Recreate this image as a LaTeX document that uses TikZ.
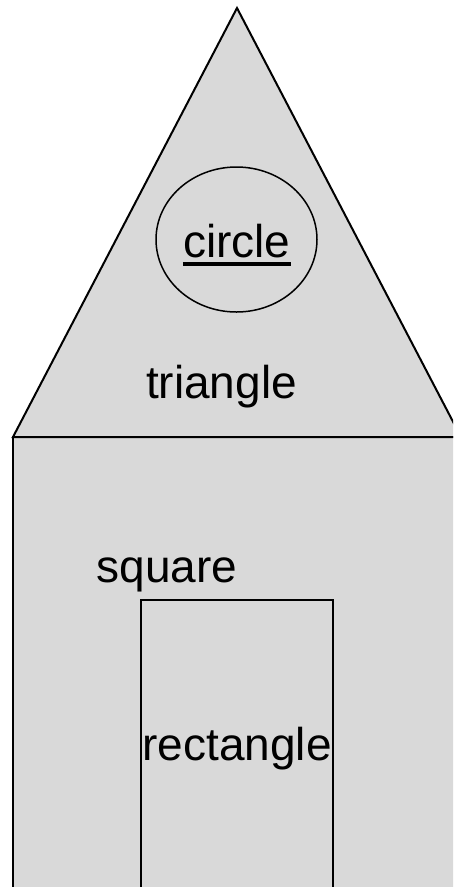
\documentclass[tikz,border=0pt]{standalone}
\usepackage{fontspec}
\setmainfont{Liberation Sans}
\definecolor{shapegray}{RGB}{217,217,217}
\begin{document}
\begin{tikzpicture}[x=1pt,y=-1pt,
  shapebox/.style={draw=black,line width=2pt,fill=shapegray},
  lbl/.style={anchor=base,inner sep=0pt,font=\fontsize{46}{52}\selectfont}]
\useasboundingbox (0,0) rectangle (453,887);
\clip (0,0) rectangle (453,887);
% square
\draw[shapebox] (13,437) rectangle (470,900);
% triangle
\coordinate (apex) at (237,8);
\coordinate (bl) at (13,437);
\coordinate (br) at (461,437);
\draw[shapebox] (bl) -- (apex) -- (br) -- cycle;
% circle
\draw[shapebox,line width=1.5pt] (236.5,239.5) ellipse [x radius=80.5, y radius=72.5];
% rectangle (door)
\draw[shapebox] (141,600) rectangle (333,900);
% labels
\node[lbl] (ct) at (236.7,257) {circle};
\draw[line width=4pt] ([yshift=-7pt]ct.base west) -- ([yshift=-7pt]ct.base east);
\node[lbl] (tt) at (221.5,398) {triangle};
\node[lbl] (st) at (167,582) {square};
\node[lbl] (rt) at (237,760) {rectangle};
\end{tikzpicture}
\end{document}
